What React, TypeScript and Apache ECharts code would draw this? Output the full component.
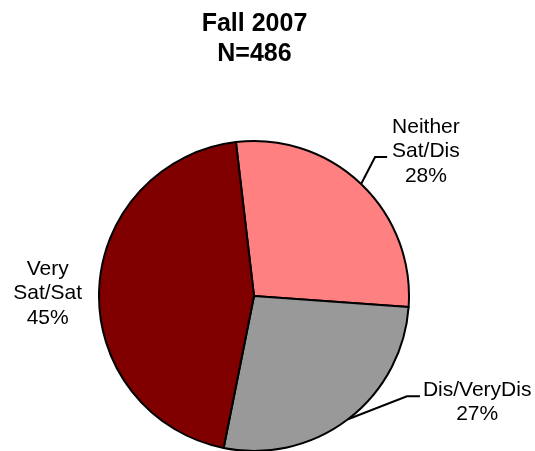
import React, { useEffect, useRef } from 'react';
import * as echarts from 'echarts';

const titleLines = ['Fall 2007', 'N=486'];
const categories = ['Neither Sat/Dis', 'Dis/VeryDis', 'Very Sat/Sat'];
const labelLines = [['Neither', 'Sat/Dis'], ['Dis/VeryDis'], ['Very', 'Sat/Sat']];
const percents = [28, 27, 45];
const colors = ['#FF8080', '#999999', '#800000'];

const FONT = "'Liberation Sans', Arial, sans-serif";

type Tweak = { elbow: number[] | null; arm?: number; gap?: number; dx?: number; dy: number };
const labelTweaks: Tweak[] = [
  { elbow: [14, -27], arm: 12, gap: 5, dy: -7 },
  { elbow: [59, -23], arm: 13, gap: 3, dy: 4 },
  { elbow: null, dx: -17, dy: 2 },
];

export default function App() {
  const ref = useRef<HTMLDivElement>(null);
  useEffect(() => {
    if (!ref.current) return;
    const chart = echarts.init(ref.current, undefined, { renderer: 'svg' });
    const data = categories.map((name, i) => ({
      name,
      value: percents[i],
      itemStyle: { color: colors[i] },
      labelLine: i === 2 ? { lineStyle: { opacity: 0 } } : undefined,
    }));
    chart.setOption({
      animation: false,
      title: {
        text: titleLines.join('\n'),
        left: 254.5,
        textAlign: 'center',
        top: 7,
        padding: 0,
        textStyle: { fontFamily: FONT, fontSize: 25, fontWeight: 'bold', lineHeight: 30, color: '#000' },
      },
      series: [
        {
          type: 'pie',
          center: [254, 296],
          radius: 155,
          startAngle: 96.7,
          clockwise: true,
          avoidLabelOverlap: false,
          emphasis: { disabled: true },
          itemStyle: { borderColor: '#000', borderWidth: 2 },
          label: {
            show: true,
            position: 'outside',
            color: '#000',
            fontFamily: FONT,
            fontSize: 21,
            lineHeight: 24.5,
            formatter: (p: any) =>
              [...labelLines[p.dataIndex], `${percents[p.dataIndex]}%`].map((l) => `{c|${l}}`).join('\n'),
            rich: { c: { align: 'center', fontFamily: FONT, fontSize: 21, lineHeight: 24.5, color: '#000' } },
          },
          labelLine: { show: true, length: 20, length2: 10, lineStyle: { color: '#000', width: 2 } },
          labelLayout: (params: any) => {
            const t = labelTweaks[params.dataIndex];
            const pts = params.labelLinePoints;
            if (!pts) return {};
            const edge = pts[0];
            if (t.elbow) {
              const elbow = [edge[0] + t.elbow[0], edge[1] + t.elbow[1]];
              const end = [elbow[0] + (t.arm || 0), elbow[1]];
              return {
                x: end[0] + (t.gap || 0),
                y: end[1] + t.dy,
                align: 'left',
                verticalAlign: 'middle',
                labelLinePoints: [edge, elbow, end],
              };
            }
            return {
              x: edge[0] + (t.dx || 0),
              y: edge[1] + t.dy,
              align: 'right',
              verticalAlign: 'middle',
              labelLinePoints: [edge, edge, edge],
            };
          },
          data,
        },
      ],
    });
    return () => chart.dispose();
  }, []);
  return <div ref={ref} style={{ position: 'fixed', left: 0, top: 0, width: 535, height: 451 }} />;
}
